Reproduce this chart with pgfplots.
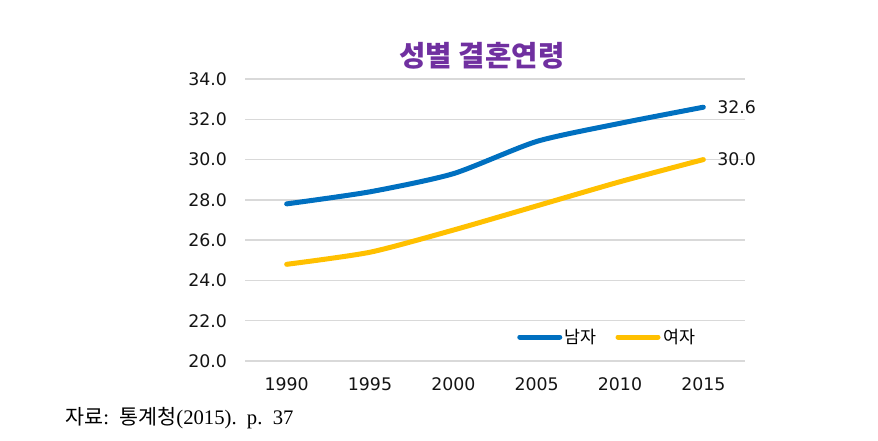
\documentclass[border=0pt]{standalone}
\usepackage{pgfplots}
\pgfplotsset{compat=1.18}
\usepackage{fontspec}
\setmainfont{DejaVu Sans}
\newfontfamily\kr{Noto Sans CJK KR}
\newfontfamily\serif{Liberation Serif}
\definecolor{mblue}{HTML}{0070C0}
\definecolor{fyellow}{HTML}{FFC000}
\definecolor{ttl}{HTML}{7030A0}
\definecolor{gridc}{HTML}{D9D9D9}
\definecolor{txt}{HTML}{141414}
\begin{document}
\begin{tikzpicture}
\path (0,0) rectangle (658.5pt,330pt);
\begin{axis}[
  at={(183.75pt,59.25pt)}, anchor=south west,
  width=375pt, height=211.5pt, scale only axis,
  xmin=-0.5, xmax=5.5, ymin=20, ymax=34,
  xtick={0,1,2,3,4,5},
  xticklabels={1990,1995,2000,2005,2010,2015},
  ytick={20,22,24,26,28,30,32,34},
  yticklabel style={/pgf/number format/fixed, /pgf/number format/fixed zerofill, /pgf/number format/precision=1, xshift=-10pt},
  /pgf/number format/assume math mode=true,
  ymajorgrids, grid style={gridc, line width=1pt},
  axis line style={draw=none},
  major tick length=0pt,
  tick label style={font=\fontsize{13}{15}\selectfont, text=txt},
  xticklabel style={yshift=-9pt},
  clip=false,
  legend style={at={(0.544,0.085)}, anchor=west, draw=none, fill=none,
    font=\kr\fontsize{13}{15}\selectfont, legend columns=2,
    /tikz/every even column/.append style={column sep=12pt},
    inner sep=0pt},
  legend image code/.code={\draw[#1, line cap=round] (0pt,0pt) -- (30pt,0pt);},
]
\addplot[mblue, line width=3.75pt, smooth, tension=0.4, line cap=round] coordinates {
 (0,27.8) (1,28.4) (2,29.3) (3,30.9) (4,31.8) (5,32.6)};
\addlegendentry{남자}
\addplot[fyellow, line width=3.75pt, smooth, tension=0.4, line cap=round] coordinates {
 (0,24.8) (1,25.4) (2,26.5) (3,27.7) (4,28.9) (5,30.0)};
\addlegendentry{여자}
\node[anchor=west, text=txt, font=\fontsize{13}{15}\selectfont] at (axis cs:5,32.6) [xshift=7pt] {32.6};
\node[anchor=west, text=txt, font=\fontsize{13}{15}\selectfont] at (axis cs:5,30.0) [xshift=7pt] {30.0};
\end{axis}
\node[text=ttl, font=\kr\bfseries\fontsize{21.5}{24}\selectfont] at (361.5pt,288.5pt) {성별 결혼연령};
\node[anchor=west, font=\serif\fontsize{15.5}{17}\selectfont, inner sep=0pt] at (48.75pt,16.5pt) {{\kr 자료}:\ \ {\kr 통계청}(2015).\ \ p.\ \ 37};
\end{tikzpicture}
\end{document}
